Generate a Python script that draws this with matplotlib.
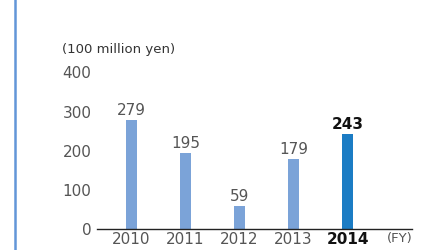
import matplotlib.pyplot as plt
from matplotlib.lines import Line2D

years = ['2010', '2011', '2012', '2013', '2014']
values = [279, 195, 59, 179, 243]
yticks = [0, 100, 200, 300, 400]

barColors = ['#7ba3d8'] * 4 + ['#1b7cc4']
textGray = '#555555'

fig = plt.figure(figsize = (4.4, 2.5), dpi = 100)
ax = fig.add_axes([0.2205, 0.084, 0.7155, 0.626])

x = list(range(len(years)))
ax.bar(x, values, width = 0.2, color = barColors)

ax.set_xlim(-0.64, 5.19)
ax.set_ylim(0, 400)

"""Value labels above bars"""
for i, v in enumerate(values):
    last = i == len(values) - 1
    ax.annotate(str(v), xy = (i, v), xytext = (0, 1.5), textcoords = 'offset points',
                ha = 'center', va = 'bottom', fontsize = 11,
                color = '#111111' if last else textGray,
                fontweight = 'bold' if last else 'normal')

ax.set_yticks(yticks)
ax.set_yticklabels([str(t) for t in yticks], fontsize = 11, color = textGray)
ax.set_xticks(x)
ax.set_xticklabels(years, fontsize = 11, color = textGray)
ax.get_xticklabels()[-1].set_color('#111111')
ax.get_xticklabels()[-1].set_fontweight('bold')
ax.tick_params(axis = 'y', length = 0, pad = 4)
ax.tick_params(axis = 'x', length = 0, pad = 2)

for s in ['top', 'right', 'left']:
    ax.spines[s].set_visible(False)
ax.spines['bottom'].set_color('#222222')
ax.spines['bottom'].set_linewidth(1.0)

ax.annotate('(FY)', xy = (4.97, 0), xycoords = ('data', 'axes fraction'),
            xytext = (0, -2.5), textcoords = 'offset points',
            ha = 'center', va = 'top', fontsize = 9.5, color = textGray)

fig.text(62 / 440, 1 - 50 / 250, '(100 million yen)', ha = 'left', va = 'center',
         fontsize = 9.5, color = '#333333')

"""Blue rule on the left edge"""
fig.add_artist(Line2D([14.5 / 440, 14.5 / 440], [0, 1], color = '#6396d8', linewidth = 1.8))

plt.savefig('out.png', dpi = 100)
plt.close()
